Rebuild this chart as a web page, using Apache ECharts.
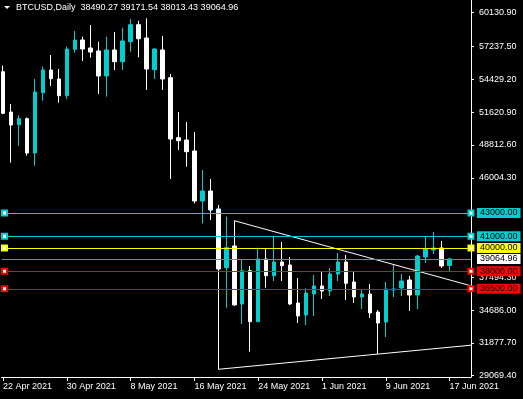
<!DOCTYPE html>
<html><head><meta charset="utf-8">
<script src="https://cdn.jsdelivr.net/npm/echarts@6/dist/echarts.min.js"></script>
<style>html,body{margin:0;padding:0;background:#000;overflow:hidden}#c{width:523px;height:399px}</style>
</head><body><div id="c"></div>
<script>
const symbolName = 'BTCUSD,Daily';
const opens  = [55082,51634,50548,51061,48126,53286,55228,54458,53029,56999,57795,57111,56854,54715,56940,55938,57650,59105,57966,55254,56940,54569,49435,49238,48297,44019,44874,43334,38310,40168,35205,38055,33690,39055,37626,38798,38541,35291,34264,36060,36745,36317,37772,38798,37087,35804,36060,34520,33665,36402,36573,37258,35975,39227,39825,39997,38490.27];
const highs  = [55596,52319,51352,51164,54458,55511,56512,55314,57222,58565,58078,59079,57650,58078,58480,58848,59592,59447,59652,57080,58137,54886,51634,50778,49923,46671,45901,43676,42675,42333,38970,38456,40022,39911,41048,40510,39226,37430,36549,37687,38029,38285,39569,39397,38029,36487,36915,34691,37087,38542,37772,37601,39397,41023,41366,40595,39171.54];
const lows   = [51450,47296,48750,47895,47039,52601,53859,52430,52747,56708,56000,56281,53174,52943,55228,55228,56794,56315,53517,54458,53517,45901,48383,46954,43822,42110,42393,29616,34888,35075,33494,31123,33650,36599,37173,37173,35120,33580,33407,34178,35633,35890,37173,35548,35291,34776,34007,30926,32381,35804,35890,34605,34776,38713,39483,38285,38013.43];
const closes = [51523,50522,51061,48126,53346,55228,54484,53029,57025,57795,57025,56768,54715,56940,55938,57710,59105,57907,55314,57025,54458,49324,49179,48237,44019,44874,43248,38200,40022,35120,38055,33690,39055,37626,38798,38482,35205,34178,36147,36745,36317,37772,38798,36981,35804,36060,34434,33580,36487,36487,37172,35975,39312,39911,39997,38457,39064.96];

const dateTickIndex  = [0,8,16,24,32,40,48,56];
const dateTickLabels = ['22 Apr 2021','30 Apr 2021','8 May 2021','16 May 2021','24 May 2021','1 Jun 2021','9 Jun 2021','17 Jun 2021'];
const priceTicks = [29069.40,31877.70,34686.00,37494.30,46004.30,48812.60,51620.90,54429.20,57237.50,60130.90];

const levelValues = [43000, 41000, 40000, 38000, 36500];
const levelNames  = ['cyan','cyan','yellow','red','red'];
const bidPrice = 39064.96;

const trendTop    = [[29, 42333], [58.6875, 36760]];
const trendBottom = [[27, 29616], [58.6875, 31680]];

const COL = {cyan:'#00CED1', yellow:'#FFFF00', red:'#FF0000', white:'#FFFFFF', bid:'#778899'};
const FONT = '"Liberation Sans", Arial, sans-serif';

const last = opens.length - 1;
const titleText = symbolName + '  ' + [opens[last], highs[last], lows[last], closes[last]].map(v => v.toFixed(2)).join(' ');

const chart = echarts.init(document.getElementById('c'), null, {renderer: 'canvas'});
chart.setOption({
  backgroundColor: '#000000',
  animation: false,
  title: {
    text: titleText, left: 16, top: 3, padding: 0,
    textStyle: {color: '#FFFFFF', fontSize: 9, fontWeight: 'normal', fontFamily: FONT}
  },
  graphic: [{
    type: 'polygon', shape: {points: [[4, 6], [10, 6], [7, 9]]},
    style: {fill: '#FFFFFF'}, silent: true
  }],
  grid: {left: 0, right: 52, top: 0, bottom: 22, containLabel: false},
  xAxis: {
    type: 'value', min: -0.1875, max: 58.6875, position: 'bottom',
    splitLine: {show: false},
    axisLine: {show: true, onZero: false, lineStyle: {color: '#FFFFFF', width: 1}},
    axisTick: {show: true, customValues: dateTickIndex, length: 4, lineStyle: {color: '#FFFFFF'}},
    axisLabel: {
      show: true, customValues: dateTickIndex, align: 'left', margin: 5,
      color: '#FFFFFF', fontSize: 9, fontFamily: FONT,
      formatter: v => dateTickLabels[dateTickIndex.indexOf(Math.round(v))] || ''
    }
  },
  yAxis: {
    type: 'value', position: 'right', min: 28958, max: 61218, scale: true,
    splitLine: {show: false},
    axisLine: {show: true, onZero: false, lineStyle: {color: '#FFFFFF', width: 1}},
    axisTick: {show: true, customValues: priceTicks, length: 3, lineStyle: {color: '#FFFFFF'}},
    axisLabel: {
      show: true, customValues: priceTicks, margin: 8,
      color: '#FFFFFF', fontSize: 9, fontFamily: FONT,
      formatter: v => v.toFixed(2)
    }
  },
  series: [
    {
      type: 'candlestick', name: symbolName,
      data: opens.map((o, i) => [i, o, closes[i], lows[i], highs[i]]),
      encode: {x: 0, y: [1, 2, 3, 4]},
      barWidth: 4,
      silent: true,
      clip: false,
      emphasis: {disabled: true},
      itemStyle: {color: COL.cyan, color0: COL.white, borderColor: COL.cyan, borderColor0: COL.white, borderWidth: 1},
      markLine: {
        silent: true,
        animation: false,
        symbol: ['emptyRect', 'emptyRect'],
        symbolSize: 5,
        symbolRotate: 0,
        symbolOffset: [[3, 0], [0, 0]],
        emphasis: {disabled: true},
        data: levelValues.map((v, i) => ({
          yAxis: v,
          lineStyle: {color: COL[levelNames[i]], type: 'solid', width: 1},
          label: {
            show: true, position: 'end', distance: 6,
            formatter: v.toFixed(2),
            backgroundColor: COL[levelNames[i]], color: '#000000',
            fontSize: 9, fontFamily: FONT, lineHeight: 9, padding: [1, 3, 0, 3]
          }
        }))
      },
      z: 2
    },
    {
      type: 'line', name: 'trendTop', data: trendTop, showSymbol: false, silent: true,
      lineStyle: {color: '#FFFFFF', width: 1}, emphasis: {disabled: true}, z: 3,
      markLine: {
        silent: true, animation: false, symbol: ['none', 'none'],
        emphasis: {disabled: true},
        data: [{
          yAxis: bidPrice,
          lineStyle: {color: COL.bid, type: 'solid', width: 1},
          label: {
            show: true, position: 'end', distance: 6,
            formatter: bidPrice.toFixed(2),
            backgroundColor: '#FFFFFF', color: '#000000',
            fontSize: 9, fontFamily: FONT, lineHeight: 9, padding: [1, 3, 0, 3]
          }
        }]
      }
    },
    {
      type: 'line', name: 'trendBottom', data: trendBottom, showSymbol: false, silent: true,
      lineStyle: {color: '#FFFFFF', width: 1}, emphasis: {disabled: true}, z: 3
    }
  ]
});
</script>
</body></html>
